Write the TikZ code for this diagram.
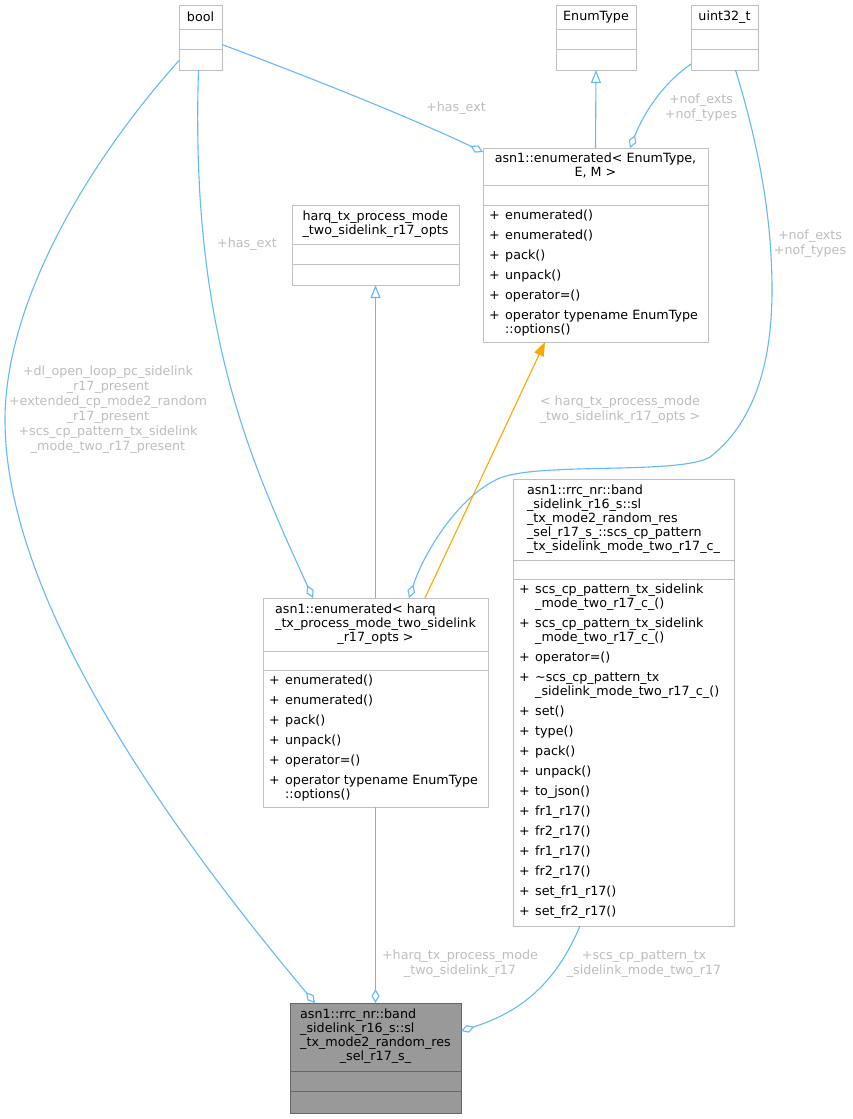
\documentclass[tikz,border=0pt]{standalone}
\usepackage{fontspec}
\setmainfont{DejaVu Sans}
\usetikzlibrary{arrows.meta,calc}
\definecolor{edgeblue}{HTML}{63B8FF}
\definecolor{boxline}{HTML}{BFBFBF}
\definecolor{lblgrey}{HTML}{BEBEBE}
\definecolor{mainfill}{HTML}{999999}
\definecolor{mainline}{HTML}{666666}
\definecolor{tmplorange}{HTML}{FFA500}
\newcommand{\mb}[1]{\makebox[16pt][l]{+}#1}
\newcommand{\mc}[1]{\hspace*{16pt}#1}
\newcommand{\cltitle}[2]{\begin{tabular}{@{}l@{}}#1\\\multicolumn{1}{@{}c@{}}{#2}\end{tabular}}
\newcommand{\compart}[4][boxline]{%
  \draw[draw=#1, line width=1pt] ([yshift=-#3pt]#2.north west) -- ([yshift=-#3pt]#2.north east);
  \draw[draw=#1, line width=1pt] ([yshift=-#4pt]#2.north west) -- ([yshift=-#4pt]#2.north east);}

\begin{document}
\begin{tikzpicture}[
    x=1pt, y=-1pt,
    cls/.style={draw=boxline, fill=white, line width=1pt, inner sep=0pt,
                outer sep=0pt, anchor=north west},
    mainbox/.style={cls, draw=mainline, fill=mainfill},
    ttl/.style={inner sep=0pt, align=center, font=\fontsize{12.7}{14}\selectfont},
    mem/.style={inner sep=0pt, anchor=north west, align=left,
                font=\fontsize{12.7}{14}\selectfont},
    lbl/.style={inner sep=0pt, align=center, text=lblgrey,
                font=\fontsize{12.7}{15}\selectfont},
    agg/.style={draw=edgeblue, line width=1.1pt,
                -{Diamond[length=14pt, width=8pt, fill=white]}},
    inh/.style={draw=edgeblue, line width=1.1pt,
                -{Triangle[open, length=13pt, width=10pt]}},
    tmpl/.style={draw=tmplorange, line width=1.1pt,
                -{Triangle[length=14pt, width=10pt]}}
]
\path[fill=white, use as bounding box] (0,0) rectangle (853,1119);

% classes
\node[cls, minimum width=43pt, minimum height=65pt] (bool) at (179,5) {};
\compart{bool}{24}{44}
\node[ttl] (bool-t) at ([yshift=-12pt]bool.north) {bool};

\node[cls, minimum width=80pt, minimum height=65pt] (enumtype) at (556,5) {};
\compart{enumtype}{24}{44}
\node[ttl] (enumtype-t) at ([yshift=-12pt]enumtype.north) {EnumType};

\node[cls, minimum width=67pt, minimum height=65pt] (uint) at (691,5) {};
\compart{uint}{24}{44}
\node[ttl] (uint-t) at ([yshift=-12pt]uint.north) {uint32\_t};

\node[cls, minimum width=167pt, minimum height=80pt] (harqopts) at (292,205) {};
\compart{harqopts}{39}{59}
\node[ttl] (harqopts-t) at ([yshift=-19.5pt]harqopts.north)
  {\cltitle{harq\_tx\_process\_mode}{\_two\_sidelink\_r17\_opts}};

\node[cls, minimum width=225pt, minimum height=194pt] (enumbase) at (483,148) {};
\compart{enumbase}{37}{57}
\node[ttl] (enumbase-t) at ([yshift=-18.5pt]enumbase.north)
  {\cltitle{asn1::enumerated< EnumType,}{E, M >}};
\node[mem] (enumbase-m) at ([xshift=6pt, yshift=-61.3pt]enumbase.north west)
  {\strut\mb{enumerated()}\\[6pt]
   \mb{enumerated()}\\[6pt]
   \mb{pack()}\\[6pt]
   \mb{unpack()}\\[6pt]
   \mb{operator=()}\\[6pt]
   \mb{operator typename EnumType}\\
   \mc{::options()}};

\node[cls, minimum width=225pt, minimum height=209pt] (enumharq) at (263,598) {};
\compart{enumharq}{53}{72}
\node[ttl] (enumharq-t) at ([yshift=-26.5pt]enumharq.north)
  {\cltitle{asn1::enumerated< harq\\\_tx\_process\_mode\_two\_sidelink}{\_r17\_opts >}};
\node[mem] (enumharq-m) at ([xshift=6pt, yshift=-76.3pt]enumharq.north west)
  {\strut\mb{enumerated()}\\[6pt]
   \mb{enumerated()}\\[6pt]
   \mb{pack()}\\[6pt]
   \mb{unpack()}\\[6pt]
   \mb{operator=()}\\[6pt]
   \mb{operator typename EnumType}\\
   \mc{::options()}};

\node[cls, minimum width=221pt, minimum height=447pt] (scschoice) at (513,479) {};
\compart{scschoice}{81}{100}
\node[ttl] (scschoice-t) at ([yshift=-40.5pt]scschoice.north)
  {\cltitle{asn1::rrc\_nr::band\\\_sidelink\_r16\_s::sl\\\_tx\_mode2\_random\_res\\\_sel\_r17\_s\_::scs\_cp\_pattern}{\_tx\_sidelink\_mode\_two\_r17\_c\_}};
\node[mem] (scschoice-m) at ([xshift=6pt, yshift=-104.5pt]scschoice.north west)
  {\strut\mb{scs\_cp\_pattern\_tx\_sidelink}\\
   \mc{\_mode\_two\_r17\_c\_()}\\[6pt]
   \mb{scs\_cp\_pattern\_tx\_sidelink}\\
   \mc{\_mode\_two\_r17\_c\_()}\\[6pt]
   \mb{operator=()}\\[6pt]
   \mb{\textasciitilde scs\_cp\_pattern\_tx}\\
   \mc{\_sidelink\_mode\_two\_r17\_c\_()}\\[6pt]
   \mb{set()}\\[6pt]
   \mb{type()}\\[6pt]
   \mb{pack()}\\[6pt]
   \mb{unpack()}\\[6pt]
   \mb{to\_json()}\\[6pt]
   \mb{fr1\_r17()}\\[6pt]
   \mb{fr2\_r17()}\\[6pt]
   \mb{fr1\_r17()}\\[6pt]
   \mb{fr2\_r17()}\\[6pt]
   \mb{set\_fr1\_r17()}\\[6pt]
   \mb{set\_fr2\_r17()}};

\node[mainbox, minimum width=171pt, minimum height=110pt] (slmain) at (290,1003) {};
\compart[mainline]{slmain}{68}{88}
\node[ttl] (slmain-t) at ([yshift=-34pt]slmain.north)
  {\cltitle{asn1::rrc\_nr::band\\\_sidelink\_r16\_s::sl\\\_tx\_mode2\_random\_res}{\_sel\_r17\_s\_}};

% relations
\draw[agg] ([yshift=-23pt]bool.west) .. controls (90,160) and (5,300) .. (5,420)
  .. controls (5,600) and (170,830) .. ([xshift=25pt]slmain.north west);
\draw[agg] ([xshift=-2pt]bool.south) .. controls (190,330) and (250,460)
  .. ([xshift=50pt]enumharq.north west);
\draw[agg] ([yshift=-7pt]bool.east) .. controls (330,85) and (420,122)
  .. ([yshift=-4pt]enumbase.north west);
\draw[inh] (enumbase.north) -- (enumtype.south);
\draw[agg] ([yshift=-26.5pt]uint.west) .. controls (665,82) and (645,110)
  .. ([xshift=147pt]enumbase.north west);
\draw[agg] ([xshift=11pt]uint.south) .. controls (760,150) and (772,220) .. (772,290)
  .. controls (772,380) and (745,430) .. (710,457)
  .. controls (680,475) and (540,462) .. (500,478)
  .. controls (460,495) and (425,550) .. ([xshift=146pt]enumharq.north west);
\draw[inh] (enumharq.north) -- (harqopts.south);
\draw[tmpl] ([xshift=162pt]enumharq.north west) -- ([xshift=62pt]enumbase.south west);
\draw[agg] (enumharq.south) -- (slmain.north);
\draw[agg] ([xshift=67pt]scschoice.south west) .. controls (555,985) and (520,1012)
  .. ([yshift=-28pt]slmain.north east);

% labels
\node[lbl] (l-hasext1) at (456,108) {+has\_ext};
\node[lbl] (l-hasext2) at (247,244) {+has\_ext};
\node[lbl] (l-nof1) at (701,107.5) {+nof\_exts\\+nof\_types};
\node[lbl] (l-nof2) at (810,244) {+nof\_exts\\+nof\_types};
\node[lbl] (l-tmpl) at (620,410) {< harq\_tx\_process\_mode\\\_two\_sidelink\_r17\_opts >};
\node[lbl] (l-present) at (108,410) {+dl\_open\_loop\_pc\_sidelink\\\_r17\_present\\+extended\_cp\_mode2\_random\\\_r17\_present\\+scs\_cp\_pattern\_tx\_sidelink\\\_mode\_two\_r17\_present};
\node[lbl] (l-harq) at (460,964) {+harq\_tx\_process\_mode\\\_two\_sidelink\_r17};
\node[lbl] (l-scs) at (644,964) {+scs\_cp\_pattern\_tx\\\_sidelink\_mode\_two\_r17};
\end{tikzpicture}
\end{document}
